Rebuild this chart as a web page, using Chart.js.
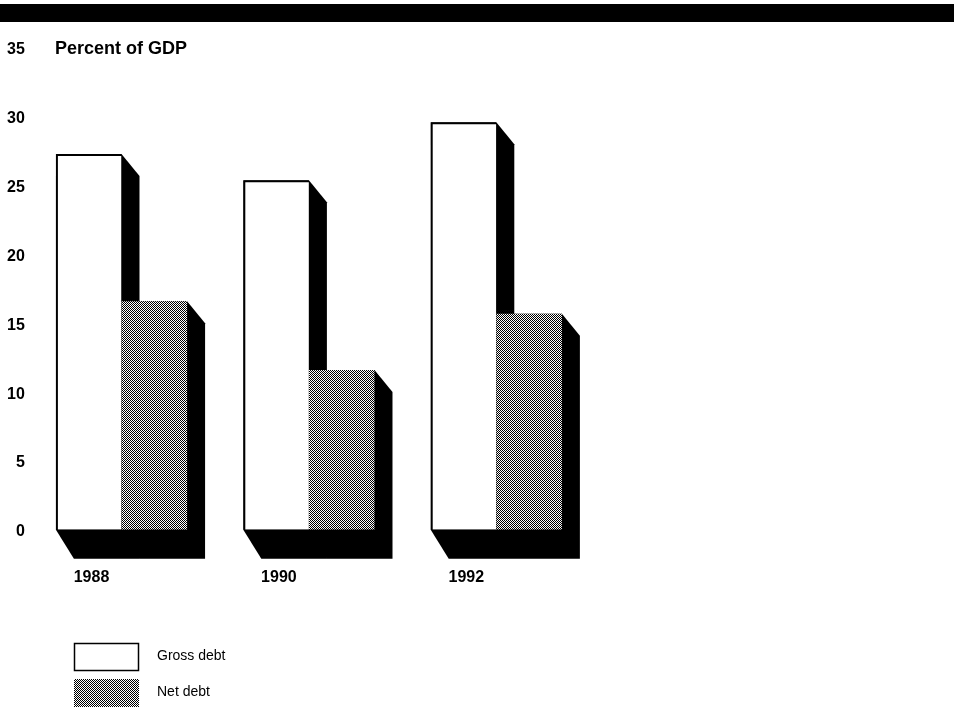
<!DOCTYPE html>
<html lang="en">
<head>
    <meta charset="UTF-8">
    <title>Debt, percent of GDP</title>
    <script src="https://cdn.jsdelivr.net/npm/chart.js"></script>
    <style>
        body { margin: 0; background: #fff; }
    </style>
</head>
<body>
<canvas id="myChart" width="954" height="713"></canvas>
<script>
        const years = ['1988', '1990', '1992'];
        const grossDebt = [27.3, 25.4, 29.6];
        const netDebt = [16.6, 11.6, 15.7];
        const yTicks = [0, 5, 10, 15, 20, 25, 30, 35];
        const seriesNames = ['Gross debt', 'Net debt'];

        // dotted fill for the net debt bars
        function makeDots() {
            const c = document.createElement('canvas');
            c.width = 4;
            c.height = 4;
            const g = c.getContext('2d');
            g.fillStyle = '#fff';
            g.fillRect(0, 0, 4, 4);
            g.fillStyle = '#000';
            for (let y = 0; y < 4; y++) {
                for (let x = 0; x < 4; x++) {
                    if ((x + y) % 2 === 0 || (x % 4 === 1 && y % 4 === 3)) g.fillRect(x, y, 1, 1);
                }
            }
            return document.getElementById('myChart').getContext('2d').createPattern(c, 'repeat');
        }
        const dots = makeDots();

        const font = '"Liberation Sans", Arial, Helvetica, sans-serif';

        // black extrusion behind every bar
        const shadows = {
            id: 'shadows',
            beforeDatasetsDraw(chart) {
                const ctx = chart.ctx;
                ctx.save();
                ctx.fillStyle = '#000';
                chart.data.datasets.forEach((ds, i) => {
                    chart.getDatasetMeta(i).data.forEach(bar => {
                        const l = bar.x - bar.width / 2;
                        const r = bar.x + bar.width / 2;
                        ctx.beginPath();
                        ctx.moveTo(l, bar.y);
                        ctx.lineTo(r, bar.y);
                        ctx.lineTo(r + 18, bar.y + 22);
                        ctx.lineTo(r + 18, bar.base + 29);
                        ctx.lineTo(l + 18, bar.base + 29);
                        ctx.lineTo(l, bar.base);
                        ctx.closePath();
                        ctx.fill();
                    });
                });
                ctx.restore();
            }
        };

        // top rule, unit label and the stacked legend
        const extras = {
            id: 'extras',
            afterDraw(chart) {
                const ctx = chart.ctx;
                const y = chart.scales.y;
                ctx.save();
                ctx.fillStyle = '#000';
                ctx.fillRect(0, 4, chart.width, 18);

                ctx.font = 'bold 18px ' + font;
                ctx.textBaseline = 'middle';
                ctx.textAlign = 'left';
                ctx.fillText('Percent of GDP', 55, y.getPixelForValue(35) + 1);

                const fills = [
                    chart.data.datasets[0].backgroundColor,
                    chart.data.datasets[1].backgroundColor
                ];
                ctx.font = '14px ' + font;
                seriesNames.forEach((name, i) => {
                    const top = 643 + i * 36;
                    ctx.fillStyle = fills[i];
                    ctx.fillRect(74, top, 65, 28);
                    if (i === 0) {
                        ctx.strokeStyle = '#000';
                        ctx.lineWidth = 1.5;
                        ctx.strokeRect(74.5, top + 0.5, 64, 27);
                    }
                    ctx.fillStyle = '#000';
                    ctx.fillText(name, 157, top + 13);
                });
                ctx.restore();
            }
        };

        const setting = {
            type: 'bar',
            data: {
                labels: years,
                datasets: [{
                    label: seriesNames[0],
                    data: grossDebt,
                    backgroundColor: '#fff',
                    borderColor: '#000',
                    borderWidth: {left: 2, top: 2, right: 0, bottom: 0},
                    borderSkipped: false
                }, {
                    label: seriesNames[1],
                    data: netDebt,
                    backgroundColor: dots,
                    borderWidth: 0
                }]
            },
            options: {
                responsive: false,
                animation: false,
                events: [],
                barPercentage: 1,
                categoryPercentage: 0.70,
                layout: {padding: {top: 48, left: 4, right: 364, bottom: 88}},
                plugins: {
                    legend: {display: false},
                    tooltip: {enabled: false}
                },
                scales: {
                    x: {
                        grid: {display: false, drawTicks: false},
                        border: {display: false},
                        ticks: {
                            color: '#000',
                            font: {family: font, size: 16, weight: 'bold'},
                            padding: 38,
                            labelOffset: -30
                        }
                    },
                    y: {
                        min: 0,
                        max: 35,
                        afterBuildTicks(axis) {
                            axis.ticks = yTicks.map(v => ({value: v}));
                        },
                        grid: {display: false, drawTicks: false},
                        border: {display: false},
                        ticks: {
                            color: '#000',
                            font: {family: font, size: 16, weight: 'bold'},
                            padding: 3,
                            labelOffset: 2
                        }
                    }
                }
            },
            plugins: [shadows, extras]
        };

        new Chart(document.getElementById('myChart'), setting);
</script>
</body>
</html>
